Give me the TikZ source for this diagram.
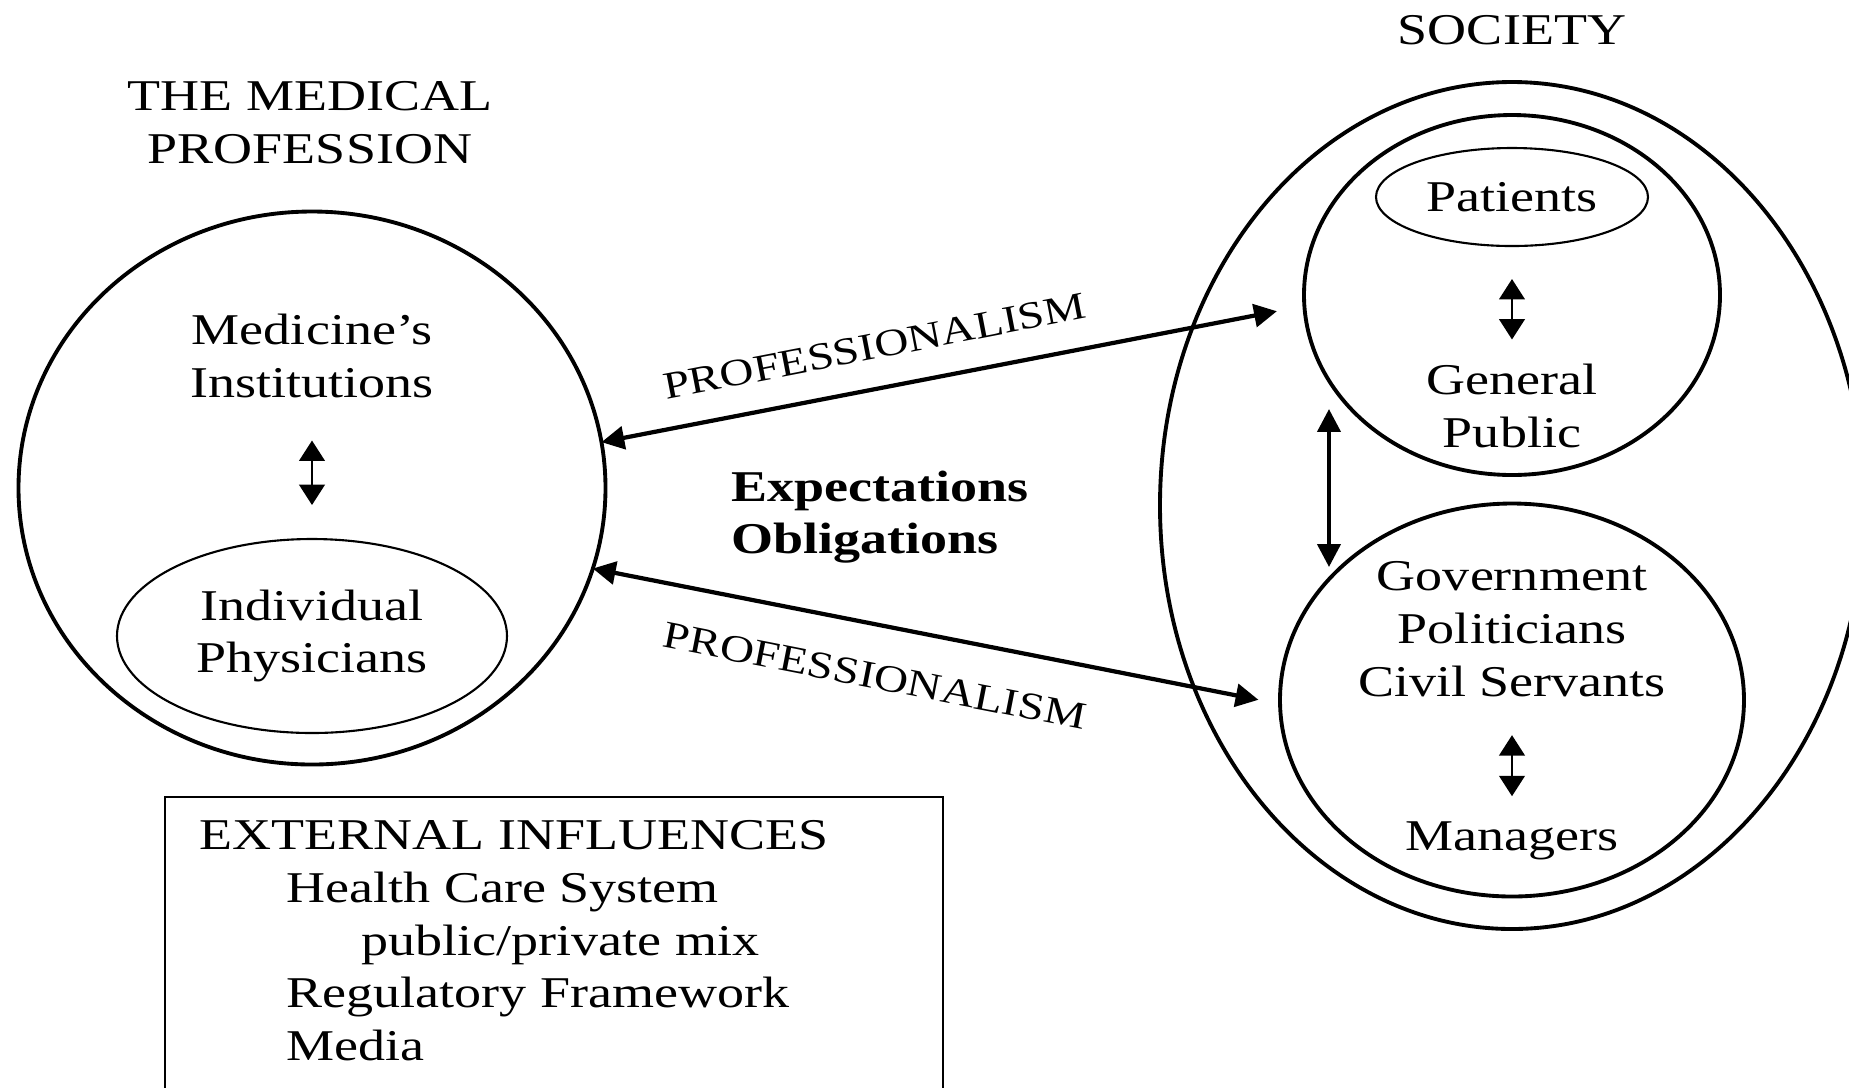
\documentclass[tikz,border=0pt]{standalone}
\usepackage{fontspec}
\setmainfont{Liberation Serif}[FakeStretch=1.23]
\usepackage{tikz}
\usetikzlibrary{arrows.meta,positioning,shapes.geometric}
\tikzset{
  ring/.style={draw=black, ellipse, line width=1.1pt, inner sep=0pt, outer sep=0pt},
  thinring/.style={draw=black, ellipse, line width=0.6pt, inner sep=0pt, outer sep=0pt,
    align=center, font=\bodyfont},
  txt/.style={align=center, inner sep=0pt, font=\bodyfont},
  tag/.style={inner sep=0pt, font=\fontsize{10.9}{12}\selectfont},
  flow/.style={{Triangle[length=6.5pt,width=6.5pt]}-{Triangle[length=6.5pt,width=6.5pt]},
    line width=1.2pt},
  sflow/.style={{Triangle[length=5.8pt,width=7.3pt]}-{Triangle[length=5.8pt,width=7.3pt]},
    line width=0.6pt}
}
\newcommand{\bodyfont}{\fontsize{12.5}{15}\selectfont}

\begin{document}
\begin{tikzpicture}
  \useasboundingbox (0,0) rectangle (18.49,-10.87);
  \clip (0,0) rectangle (18.49,-10.87);

  % the medical profession
  \node[txt] (proftitle) at (3.10,-1.225) {THE MEDICAL\\PROFESSION};
  \node[ring, minimum width=58.7mm, minimum height=55.3mm] (medcirc) at (3.12,-4.88) {};
  \node[txt] (inst) at (3.12,-3.56) {Medicine's\\Institutions};
  \node[thinring, minimum width=39mm, minimum height=19.4mm] (phys) at (3.12,-6.36)
    {Individual\\Physicians};
  \draw[sflow, shorten <=4.2mm, shorten >=3.4mm] (inst) -- (phys);

  % society
  \node[txt] (soctitle) at (15.12,-0.30) {SOCIETY};
  \node[ring, minimum width=70.4mm, minimum height=84.7mm] (society) at (15.12,-5.055) {};

  \node[ring, minimum width=41.6mm, minimum height=36mm] (public) at (15.12,-2.95) {};
  \node[thinring, minimum width=27.2mm, minimum height=9.8mm] (patients) at (15.12,-1.97) {Patients};
  \node[txt] (genpub) at (15.12,-4.06) {General\\Public};
  \draw[sflow, shorten <=3.3mm, shorten >=2.4mm] (patients) -- (genpub);

  \node[ring, minimum width=46.4mm, minimum height=39.3mm] (govt) at (15.12,-7.00) {};
  \node[txt] (gov) at (15.12,-6.29) {Government\\Politicians\\Civil Servants};
  \node[txt] (mgr) at (15.12,-8.41) {Managers};
  \draw[sflow, shorten <=3.8mm, shorten >=2.5mm] (gov) -- (mgr);

  \coordinate (gpfoot) at (13.29,-4.09);
  \coordinate (govtop) at (13.29,-5.67);
  \draw[flow] (gpfoot) -- (govtop);

  % between the two sides
  \node[inner sep=0pt, anchor=west, align=left, font=\bodyfont\bfseries] (expect) at (7.31,-5.17)
    {Expectations\\Obligations};
  \draw[flow, shorten >=2.8mm] (medcirc.9)
    -- node[tag, sloped, above=2.7mm, pos=0.40] (profup) {PROFESSIONALISM} (public.183);
  \draw[flow, shorten >=2.2mm] (medcirc.-16)
    -- node[tag, sloped, below=3.6mm, pos=0.425] (proflow) {PROFESSIONALISM} (govt.181);

  % outside factors
  \node[draw, line width=0.6pt, anchor=north west, inner sep=0pt,
    minimum width=77.8mm, minimum height=34mm] (extbox) at (1.64,-7.96) {};
  \node[txt, align=left, anchor=north west] (extinf) at ([xshift=3.5mm, yshift=-2.4mm]extbox.north west)
    {EXTERNAL INFLUENCES\\
     \hspace*{8.7mm}Health Care System\\
     \hspace*{16.2mm}public/private mix\\
     \hspace*{8.7mm}Regulatory Framework\\
     \hspace*{8.7mm}Media};
\end{tikzpicture}
\end{document}
